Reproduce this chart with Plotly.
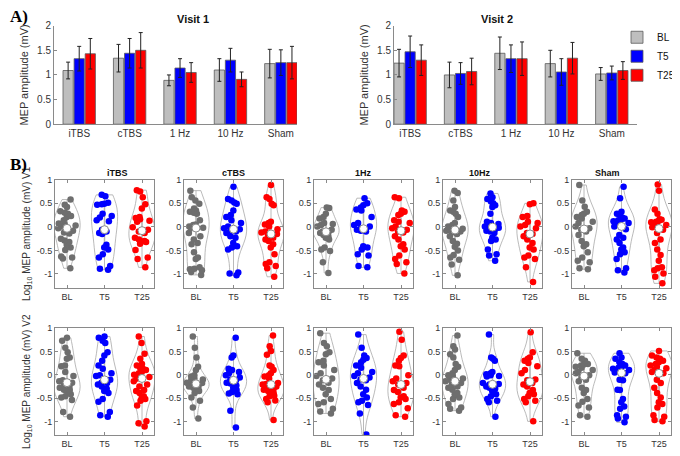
import numpy as np
import plotly.graph_objects as go

# the page body adds an 8 px margin, so the figure is drawn 8 px smaller and shifted
OFF = 8
W, H = 680 - OFF, 456 - OFF

protocols = ['iTBS', 'cTBS', '1 Hz', '10 Hz', 'Sham']
panel_titles = ['iTBS', 'cTBS', '1Hz', '10Hz', 'Sham']
times = ['BL', 'T5', 'T25']

# Panel A: mean MEP amplitude (mV) and error bar half-lengths
v1_bl = [1.09, 1.34, 0.89, 1.10, 1.23]
v1_t5 = [1.33, 1.44, 1.14, 1.30, 1.25]
v1_t25 = [1.43, 1.50, 1.05, 0.91, 1.25]
v1_bl_err = [0.17, 0.28, 0.11, 0.23, 0.29]
v1_t5_err = [0.25, 0.30, 0.19, 0.24, 0.26]
v1_t25_err = [0.31, 0.36, 0.20, 0.15, 0.33]

v2_bl = [1.24, 1.00, 1.44, 1.23, 1.02]
v2_t5 = [1.47, 1.03, 1.33, 1.06, 1.04]
v2_t25 = [1.30, 1.07, 1.33, 1.34, 1.09]
v2_bl_err = [0.28, 0.26, 0.33, 0.27, 0.13]
v2_t5_err = [0.32, 0.22, 0.28, 0.27, 0.14]
v2_t25_err = [0.31, 0.27, 0.34, 0.32, 0.18]

# Panel B: log10 MEP amplitude per subject, visit 1
v1_itbs_bl = [0.58, 0.47, 0.42, 0.33, 0.30, 0.28, 0.23, 0.21, 0.14, 0.07, 0.05, 0.03, 0.01, -0.03, -0.08, -0.12, -0.14, -0.25, -0.29, -0.32, -0.38, -0.44, -0.49, -0.63, -0.65, -0.67, -0.88]
v1_itbs_t5 = [0.68, 0.65, 0.51, 0.49, 0.48, 0.47, 0.28, 0.23, 0.20, 0.14, 0.12, -0.06, -0.10, -0.13, -0.15, -0.38, -0.44, -0.48, -0.58, -0.65, -0.83, -0.89, -0.91]
v1_itbs_t25 = [0.78, 0.75, 0.63, 0.48, 0.39, 0.21, 0.19, 0.16, 0.13, 0.11, -0.01, -0.06, -0.10, -0.13, -0.23, -0.27, -0.30, -0.31, -0.32, -0.36, -0.49, -0.65, -0.68, -0.86]
v1_ctbs_bl = [0.77, 0.63, 0.56, 0.49, 0.39, 0.35, 0.32, 0.30, 0.28, 0.14, 0.05, 0.04, 0.01, 0.0, -0.02, -0.03, -0.13, -0.20, -0.27, -0.34, -0.37, -0.54, -0.65, -0.68, -0.86, -0.89, -0.90, -0.92, -0.96, -1.02]
v1_ctbs_t5 = [0.85, 0.59, 0.56, 0.52, 0.49, 0.35, 0.25, 0.21, 0.14, 0.08, 0.01, -0.03, -0.05, -0.08, -0.10, -0.13, -0.20, -0.23, -0.34, -0.41, -0.44, -0.48, -0.97, -0.99, -1.03]
v1_ctbs_t25 = [0.89, 0.63, 0.59, 0.49, 0.46, 0.11, 0.08, 0.05, 0.01, -0.05, -0.10, -0.12, -0.15, -0.17, -0.23, -0.27, -0.30, -0.37, -0.44, -0.58, -0.75, -0.79, -0.83, -0.88, -1.06]
v1_1hz_bl = [0.41, 0.40, 0.28, 0.21, 0.18, 0.08, 0.06, 0.04, 0.01, -0.06, -0.10, -0.11, -0.13, -0.17, -0.20, -0.23, -0.27, -0.44, -0.48, -0.51, -0.75, -0.98]
v1_1hz_t5 = [0.61, 0.50, 0.46, 0.41, 0.37, 0.35, 0.21, 0.08, 0.04, 0.01, -0.03, -0.05, -0.06, -0.08, -0.10, -0.41, -0.44, -0.48, -0.58, -0.61, -0.83, -0.86]
v1_1hz_t25 = [0.63, 0.61, 0.35, 0.32, 0.28, 0.25, 0.14, 0.11, 0.08, 0.01, -0.03, -0.06, -0.10, -0.12, -0.20, -0.27, -0.37, -0.41, -0.48, -0.61, -0.68, -0.75, -0.79, -0.99]
v1_10hz_bl = [0.77, 0.72, 0.56, 0.42, 0.35, 0.32, 0.28, 0.21, 0.08, 0.04, 0.01, -0.02, -0.04, -0.05, -0.08, -0.10, -0.12, -0.15, -0.20, -0.30, -0.36, -0.42, -0.50, -0.60, -0.65, -0.70, -0.80, -1.03]
v1_10hz_t5 = [0.71, 0.63, 0.59, 0.54, 0.50, 0.46, 0.42, 0.28, 0.11, 0.08, 0.06, 0.04, 0.01, -0.02, -0.05, -0.06, -0.08, -0.10, -0.13, -0.23, -0.27, -0.30, -0.48, -0.58, -0.61, -0.72]
v1_10hz_t25 = [0.50, 0.48, 0.23, 0.21, 0.11, 0.08, 0.04, 0.01, -0.03, -0.13, -0.15, -0.20, -0.27, -0.34, -0.44, -0.48, -0.61, -0.65, -0.68, -0.86, -1.17]
v1_sham_bl = [0.89, 0.56, 0.43, 0.32, 0.28, 0.25, 0.21, 0.18, 0.11, 0.08, 0.01, -0.03, -0.06, -0.10, -0.17, -0.30, -0.37, -0.41, -0.54, -0.65, -0.72, -0.75, -0.88, -0.90]
v1_sham_t5 = [0.85, 0.61, 0.32, 0.28, 0.25, 0.20, 0.18, 0.16, 0.14, 0.12, 0.10, 0.08, 0.05, 0.01, -0.05, -0.17, -0.23, -0.27, -0.34, -0.44, -0.48, -0.54, -0.58, -0.68, -0.88, -0.92, -0.97]
v1_sham_t25 = [0.90, 0.77, 0.37, 0.28, 0.16, 0.15, 0.13, 0.11, 0.10, 0.08, 0.04, 0.02, -0.01, -0.06, -0.13, -0.27, -0.34, -0.48, -0.60, -0.72, -0.86, -0.88, -0.92, -0.99, -1.06, -1.20]

# visit 2
v2_itbs_bl = [0.79, 0.73, 0.58, 0.48, 0.37, 0.34, 0.20, 0.18, 0.06, -0.03, -0.12, -0.14, -0.17, -0.21, -0.25, -0.28, -0.32, -0.33, -0.35, -0.42, -0.46, -0.49, -0.54, -0.80, -0.90]
v2_itbs_t5 = [0.82, 0.79, 0.73, 0.68, 0.48, 0.41, 0.30, 0.20, 0.13, 0.03, -0.01, -0.03, -0.11, -0.17, -0.18, -0.21, -0.25, -0.30, -0.35, -0.39, -0.52, -0.58, -0.80, -0.87, -0.90]
v2_itbs_t25 = [0.82, 0.68, 0.45, 0.34, 0.23, 0.20, 0.15, 0.13, 0.10, 0.06, 0.03, 0.0, -0.01, -0.05, -0.08, -0.14, -0.21, -0.25, -0.33, -0.35, -0.39, -0.46, -0.49, -0.52, -0.56, -0.66, -1.00, -1.04, -1.11]
v2_ctbs_bl = [0.82, 0.58, 0.37, 0.17, 0.10, -0.01, -0.04, -0.08, -0.10, -0.12, -0.17, -0.18, -0.21, -0.23, -0.25, -0.28, -0.30, -0.33, -0.35, -0.39, -0.49, -0.56, -0.70, -0.94]
v2_ctbs_t5 = [0.79, 0.41, 0.37, 0.13, 0.10, 0.06, 0.03, -0.01, -0.06, -0.10, -0.12, -0.17, -0.19, -0.23, -0.28, -0.33, -0.37, -0.40, -0.42, -0.77, -1.13]
v2_ctbs_t25 = [0.84, 0.61, 0.51, 0.43, 0.20, 0.17, 0.10, 0.03, -0.01, -0.04, -0.08, -0.18, -0.20, -0.21, -0.25, -0.28, -0.30, -0.32, -0.35, -0.39, -0.42, -0.45, -0.46, -0.52, -0.55, -0.59, -0.97]
v2_1hz_bl = [0.89, 0.68, 0.61, 0.48, 0.44, 0.30, 0.27, 0.20, 0.10, 0.03, -0.03, -0.08, -0.12, -0.17, -0.21, -0.28, -0.33, -0.42, -0.52, -0.59, -0.63, -0.73, -0.79, -0.83]
v2_1hz_t5 = [0.86, 0.58, 0.41, 0.36, 0.32, 0.27, 0.20, 0.15, 0.06, 0.03, -0.03, -0.06, -0.10, -0.12, -0.18, -0.25, -0.32, -0.42, -0.49, -0.56, -0.59, -0.65, -0.83, -1.28]
v2_1hz_t25 = [0.92, 0.75, 0.41, 0.36, 0.30, 0.20, 0.18, -0.01, -0.08, -0.14, -0.18, -0.21, -0.28, -0.33, -0.37, -0.46, -0.49, -0.52, -0.59, -0.63, -0.72, -0.87, -0.90]
v2_10hz_bl = [0.84, 0.61, 0.54, 0.44, 0.37, 0.23, 0.17, 0.10, 0.03, -0.01, -0.04, -0.08, -0.11, -0.14, -0.18, -0.21, -0.25, -0.28, -0.32, -0.39, -0.42, -0.49, -0.52, -0.63, -0.70, -0.73, -0.77]
v2_10hz_t5 = [0.86, 0.37, 0.34, 0.30, 0.06, 0.03, 0.01, -0.01, -0.03, -0.04, -0.18, -0.20, -0.21, -0.25, -0.25, -0.28, -0.30, -0.35, -0.42, -0.46, -0.52, -0.56, -0.59, -0.90]
v2_10hz_t25 = [0.91, 0.48, 0.37, 0.34, 0.30, 0.25, 0.18, 0.10, 0.03, -0.10, -0.12, -0.18, -0.21, -0.25, -0.33, -0.39, -0.42, -0.46, -0.52, -0.56, -0.59, -1.00]
v2_sham_bl = [0.46, 0.34, 0.30, 0.23, 0.22, 0.20, 0.17, 0.15, 0.10, 0.06, 0.03, -0.01, -0.05, -0.11, -0.14, -0.28, -0.33, -0.39, -0.52, -0.58, -0.66, -0.70, -0.87, -0.90]
v2_sham_t5 = [0.46, 0.37, 0.34, 0.27, 0.23, 0.20, 0.17, 0.15, 0.13, 0.12, 0.10, 0.08, 0.05, 0.03, -0.11, -0.12, -0.32, -0.33, -0.52, -0.59, -0.68, -0.73, -0.87, -0.90, -0.94, -1.02]
v2_sham_t25 = [0.51, 0.41, 0.37, 0.34, 0.30, 0.27, 0.23, 0.20, 0.17, 0.14, 0.10, 0.06, 0.03, -0.11, -0.18, -0.28, -0.39, -0.49, -0.59, -0.63, -0.70, -0.87, -0.90, -0.97, -1.00]

visit1 = [[v1_itbs_bl, v1_itbs_t5, v1_itbs_t25], [v1_ctbs_bl, v1_ctbs_t5, v1_ctbs_t25],
          [v1_1hz_bl, v1_1hz_t5, v1_1hz_t25], [v1_10hz_bl, v1_10hz_t5, v1_10hz_t25],
          [v1_sham_bl, v1_sham_t5, v1_sham_t25]]
visit2 = [[v2_itbs_bl, v2_itbs_t5, v2_itbs_t25], [v2_ctbs_bl, v2_ctbs_t5, v2_ctbs_t25],
          [v2_1hz_bl, v2_1hz_t5, v2_1hz_t25], [v2_10hz_bl, v2_10hz_t5, v2_10hz_t25],
          [v2_sham_bl, v2_sham_t5, v2_sham_t25]]

bar_colors = ['#BEBEBE', '#0000FF', '#FF0000']
dot_colors = ['#6E6E6E', '#0000FF', '#FF0000']
mean_colors = ['#8C8C8C', '#4D4DFF', '#FF4D4D']
FONT = 'Liberation Sans, Arial, sans-serif'
AXC = '#8A8A8A'
TXC = '#333333'


def px(x):
    # page pixel -> paper fraction
    return (x - OFF) / W


def py(y):
    return 1 - (y - OFF) / H


fig = go.Figure()
layout = {}

# ---- Panel A ----
visA = [(v1_bl, v1_t5, v1_t25, v1_bl_err, v1_t5_err, v1_t25_err),
        (v2_bl, v2_t5, v2_t25, v2_bl_err, v2_t5_err, v2_t25_err)]
a_left = [54, 394]
a_ranges = [[-0.5, 4.32], [-0.32, 4.5]]
for k in range(2):
    vals = visA[k]
    n = k + 1
    sfx = str(n) if n > 1 else ''
    for j in range(3):
        fig.add_trace(go.Bar(
            x=protocols, y=vals[j], name=times[j],
            marker=dict(color=bar_colors[j], line=dict(color='#5A5A5A', width=0.8)),
            error_y=dict(type='data', array=vals[j + 3], color='#222222', thickness=1, width=2),
            xaxis='x' + sfx, yaxis='y' + sfx,
            showlegend=(k == 1), legendgroup=times[j]))
    layout['xaxis' + sfx] = dict(
        domain=[px(a_left[k]), px(a_left[k] + 243)], anchor='y' + sfx, type='category',
        range=a_ranges[k], showline=True, linecolor=AXC, linewidth=1, ticks='',
        tickfont=dict(size=10, color=TXC, family=FONT), showgrid=False, fixedrange=True)
    layout['yaxis' + sfx] = dict(
        domain=[py(122), py(21)], anchor='x' + sfx, range=[0, 2], tickvals=[0, 0.5, 1, 1.5, 2],
        ticktext=['0', '0.5', '1', '1.5', '2'], showline=True, linecolor=AXC, linewidth=1,
        ticks='inside', ticklen=3, tickcolor=AXC, showgrid=False, zeroline=False,
        tickfont=dict(size=10, color=TXC, family=FONT),
        title=dict(text='MEP amplitude (mV)', font=dict(size=11, color=TXC, family=FONT), standoff=6))

# ---- Panel B ----
b_lefts = [55, 184, 314, 443, 572]
b_rows = [(179, 290), (331, 441)]
for r, visit in enumerate([visit1, visit2]):
    for c in range(5):
        n = 3 + r * 5 + c
        sfx = str(n)
        for j in range(3):
            vals = visit[c][j]
            fig.add_trace(go.Violin(
                x=[j + 1] * len(vals), y=vals, xaxis='x' + sfx, yaxis='y' + sfx,
                width=0.7, scalemode='width', spanmode='hard', showlegend=False,
                fillcolor='rgba(0,0,0,0)', line=dict(color='#A8A8A8', width=0.8),
                points='all', pointpos=0, jitter=0.75,
                marker=dict(color=dot_colors[j], size=6.5, line=dict(width=0)),
                meanline=dict(visible=True, color=mean_colors[j], width=1.2),
                box=dict(visible=True, width=0.02, fillcolor='rgba(0,0,0,0)',
                         line=dict(color='#A8A8A8', width=0.8)),
                hoveron='points'))
            fig.add_trace(go.Scatter(
                x=[j + 1], y=[float(np.median(vals))], mode='markers', showlegend=False,
                xaxis='x' + sfx, yaxis='y' + sfx,
                marker=dict(color='white', size=8, line=dict(color='#8C8C8C', width=1))))
        top, bot = b_rows[r]
        layout['xaxis' + sfx] = dict(
            domain=[px(b_lefts[c]), px(b_lefts[c] + 99)], anchor='y' + sfx,
            range=[0.68, 3.32], tickvals=[1, 2, 3], ticktext=times,
            showline=True, mirror='ticks', linecolor=AXC, linewidth=1,
            ticks='inside', ticklen=3, tickcolor=AXC, showgrid=False, zeroline=False,
            tickfont=dict(size=9, color=TXC, family=FONT))
        ydict = dict(
            domain=[py(bot), py(top)], anchor='x' + sfx, range=[-1.3, 1.0],
            tickvals=[-1, -0.5, 0, 0.5, 1], ticktext=['-1', '-0.5', '0', '0.5', '1'],
            showline=True, mirror='ticks', linecolor=AXC, linewidth=1,
            ticks='inside', ticklen=3, tickcolor=AXC, showgrid=False, zeroline=False,
            tickfont=dict(size=9, color=TXC, family=FONT))
        if c == 0:
            ydict['title'] = dict(text='Log<sub>10</sub> MEP amplitude (mV) V%d' % (r + 1),
                                  font=dict(size=10, color=TXC, family=FONT), standoff=4)
        layout['yaxis' + sfx] = ydict

annotations = []
for text, x, y, size in [('Visit 1', 175, 14, 11), ('Visit 2', 515, 14, 11)]:
    annotations.append(dict(text='<b>%s</b>' % text, x=px(x), y=py(y), xref='paper', yref='paper',
                            yanchor='middle', showarrow=False,
                            font=dict(size=size, color='#111', family=FONT)))
for c in range(5):
    annotations.append(dict(text='<b>%s</b>' % panel_titles[c], x=px(b_lefts[c] + 49.5), y=py(172),
                            xref='paper', yref='paper', yanchor='middle', showarrow=False,
                            font=dict(size=9, color='#111', family=FONT)))
for text, y in [('A)', 12), ('B)', 163)]:
    annotations.append(dict(text='<b>%s</b>' % text, x=0, y=py(y), xref='paper', yref='paper',
                            xanchor='left', yanchor='middle', showarrow=False,
                            font=dict(size=17, color='black', family='Liberation Serif, serif')))

fig.update_layout(
    width=W, height=H, autosize=False, margin=dict(l=0, r=0, t=0, b=0),
    paper_bgcolor='white', plot_bgcolor='white',
    barmode='group', bargap=0.34, bargroupgap=0.08, violinmode='overlay',
    font=dict(family=FONT, color=TXC),
    legend=dict(x=1.0, y=py(18), xanchor='right', yanchor='top',
                font=dict(size=10, color='#111', family=FONT), bgcolor='rgba(0,0,0,0)',
                itemwidth=30, tracegroupgap=0),
    annotations=annotations,
    **layout)

fig.write_html("out.html")
